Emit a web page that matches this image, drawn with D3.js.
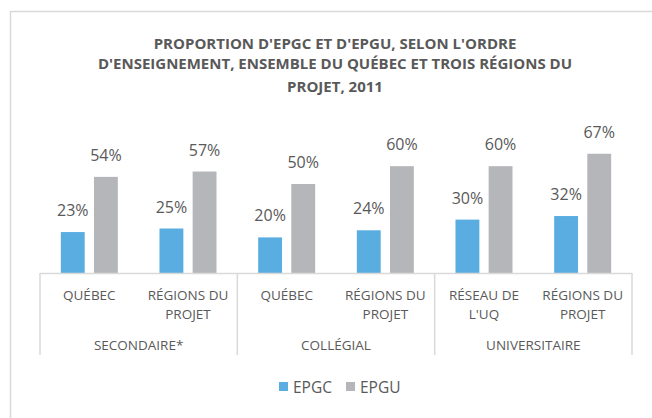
<!DOCTYPE html>
<html><head><meta charset="utf-8">
<script src="https://cdn.jsdelivr.net/npm/d3@7"></script>
<style>body{margin:0;background:#fff}svg{display:block}text{font-family:"Open Sans",sans-serif;fill:#595959}</style>
</head><body><svg id="c" width="652" height="418"></svg>
<script>
const titleLines = ["PROPORTION D'EPGC ET D'EPGU, SELON L'ORDRE","D'ENSEIGNEMENT, ENSEMBLE DU QUÉBEC ET TROIS RÉGIONS DU","PROJET, 2011"];
const groups = ["SECONDAIRE*","COLLÉGIAL","UNIVERSITAIRE"];
const categories = [["QUÉBEC"],["RÉGIONS DU","PROJET"],["QUÉBEC"],["RÉGIONS DU","PROJET"],["RÉSEAU DE","L'UQ"],["RÉGIONS DU","PROJET"]];
const categoryGroup = [0,0,1,1,2,2];
const seriesNames = ["EPGC","EPGU"];
const epgc = [23,25,20,24,30,32];
const epgu = [54,57,50,60,60,67];
const colors = ["#5AADE1","#B4B6B9"];

const svg = d3.select("#c");
svg.append("rect").attr("x",10.5).attr("y",11.5).attr("width",700).attr("height",500)
  .attr("fill","#fff").attr("stroke","#d9d9d9").attr("stroke-width",1.5);

const tY = [49,69,92];
titleLines.forEach((t,i)=>svg.append("text").attr("x",335).attr("y",tY[i]).attr("text-anchor","middle")
  .attr("font-size",15).attr("font-weight","bold").text(t));

const x0 = 40, x1 = 632, base = 273;
const x = d3.scaleBand().domain(d3.range(6)).range([x0,x1]);
const y = d3.scaleLinear().domain([0,80]).range([base, base-142.4]);
const sub = d3.scaleBand().domain([0,1]).range([-28.5,28.5]).paddingInner(0.28);

const series = [epgc, epgu];
series.forEach((vals,s)=>{
  const g = svg.append("g");
  vals.forEach((v,i)=>{
    const cx = x(i)+x.bandwidth()/2;
    g.append("rect").attr("x",cx+sub(s)).attr("y",y(v)).attr("width",sub.bandwidth())
      .attr("height",base-y(v)).attr("fill",colors[s]);
    g.append("text").attr("x",cx+sub(s)+sub.bandwidth()/2).attr("y",y(v)-16)
      .attr("text-anchor","middle").attr("font-size",16).text(v+"%");
  });
});

// axis
const ax = svg.append("g").attr("stroke","#d9d9d9").attr("stroke-width",1.5);
ax.append("line").attr("x1",x0).attr("x2",x1).attr("y1",base+0.5).attr("y2",base+0.5);
const gb = [0,2,4,6];
gb.forEach(k=>{
  const xx = k<6 ? x(k) : x1;
  ax.append("line").attr("x1",xx).attr("x2",xx).attr("y1",base).attr("y2",355);
});
categories.forEach((lines,i)=>{
  const cx = x(i)+x.bandwidth()/2;
  lines.forEach((l,j)=>svg.append("text").attr("x",cx).attr("y",300+j*18.5)
    .attr("text-anchor","middle").attr("font-size",13.5).text(l));
});
groups.forEach((gname,k)=>{
  const a = x(k*2), b = k*2+2<6 ? x(k*2+2) : x1;
  svg.append("text").attr("x",(a+b)/2).attr("y",350).attr("text-anchor","middle").attr("font-size",13.5).text(gname);
});

// legend
const lg = svg.append("g");
const lx = [279,346];
seriesNames.forEach((n,s)=>{
  lg.append("rect").attr("x",lx[s]).attr("y",382).attr("width",9).attr("height",9).attr("fill",colors[s]);
  lg.append("text").attr("x",lx[s]+14).attr("y",392.5).attr("font-size",15.5).text(n);
});
</script></body></html>
